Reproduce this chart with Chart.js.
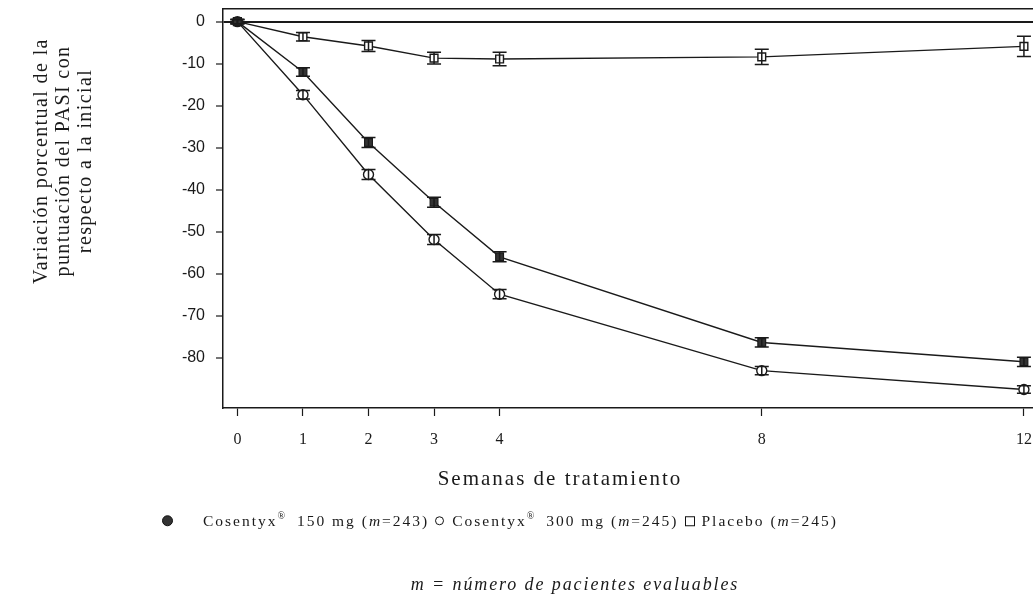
<!DOCTYPE html>
<html>
<head>
<meta charset="utf-8">
<script src="https://cdn.jsdelivr.net/npm/chart.js@4/dist/chart.umd.min.js"></script>
<style>
  html, body { margin: 0; padding: 0; background: #fff; overflow: hidden; }
  #wrap { position: relative; width: 1033px; height: 603px; overflow: hidden; font-family: "Liberation Serif", "DejaVu Serif", serif; color: #1a1a1a; }
  #c { position: absolute; left: 0; top: 0; }
  .rot { position: absolute; white-space: nowrap; font-size: 20px; letter-spacing: 1.4px; transform: translate(-50%, -50%) rotate(-90deg); line-height: 1; }
  .abs { position: absolute; white-space: nowrap; line-height: 1; }
  .xt { font-size: 21px; letter-spacing: 2px; transform: translate(-50%, -50%); }
  .foot { font-size: 18px; letter-spacing: 1.9px; font-style: italic; transform: translate(-50%, -50%); }
  #legend { position: absolute; left: 162px; top: 521px; transform: translateY(-50%); display: flex; align-items: center; white-space: nowrap; font-size: 15.5px; letter-spacing: 2px; line-height: 1; }
  #legend sup { font-size: 10px; position: relative; top: -2px; vertical-align: top; letter-spacing: 0; }
  .mk { display: inline-block; box-sizing: border-box; flex: none; }
</style>
</head>
<body>
<div id="wrap">
  <canvas id="c" width="1040" height="603"></canvas>
</div>
<script>
// ---- data ----
const weeks = [0, 1, 2, 3, 4, 8, 12];
const xTicks = [0, 1, 2, 3, 4, 8, 12];
const yTicks = [0, -10, -20, -30, -40, -50, -60, -70, -80];
const cos150 = [0, -12.0, -28.8, -43.0, -56.0, -76.4, -81.0];
const cos300 = [0, -17.4, -36.4, -51.9, -64.9, -83.1, -87.6];
const placebo = [0, -3.6, -5.8, -8.7, -8.9, -8.4, -5.9];
const err150 = [0.5, 1.0, 1.2, 1.2, 1.2, 1.1, 1.1];
const err300 = [0.5, 1.0, 1.2, 1.2, 1.1, 1.0, 0.9];
const errPlacebo = [0.5, 1.0, 1.3, 1.4, 1.6, 1.8, 2.4];
const seriesNames = ['Cosentyx', 'Cosentyx', 'Placebo'];
const seriesDose = ['150 mg', '300 mg', ''];
const seriesN = [243, 245, 245];
const yTitleLines = ['Variación porcentual de la', 'puntuación del PASI con', 'respecto a la inicial'];
const xTitle = 'Semanas de tratamiento';
const footnote = 'm = número de pacientes evaluables';

const ink = '#1a1a1a';

// ---- error bar plugin (uses the chart's scales) ----
const errorBars = {
  id: 'errorBars',
  afterDatasetsDraw(chart) {
    const ctx = chart.ctx;
    const ys = chart.scales.y;
    chart.data.datasets.forEach((ds, i) => {
      const meta = chart.getDatasetMeta(i);
      meta.data.forEach((pt, j) => {
        const v = ds.data[j].y, e = ds.errors[j];
        const x = pt.x;
        const y1 = ys.getPixelForValue(v + e), y2 = ys.getPixelForValue(v - e);
        ctx.save();
        ctx.strokeStyle = ink;
        ctx.lineWidth = 1.5;
        ctx.beginPath();
        ctx.moveTo(x, y1); ctx.lineTo(x, y2);
        ctx.moveTo(x - 7, y1); ctx.lineTo(x + 7, y1);
        ctx.moveTo(x - 7, y2); ctx.lineTo(x + 7, y2);
        ctx.stroke();
        ctx.restore();
      });
    });
  }
};

function pts(vals) { return weeks.map((w, i) => ({ x: w, y: vals[i] })); }

new Chart(document.getElementById('c'), {
  type: 'line',
  data: {
    datasets: [
      { label: 'Cosentyx 150 mg', data: pts(cos150), errors: err150, borderColor: ink, borderWidth: 1.4,
        pointStyle: 'rect', pointRadius: 5.5, pointBackgroundColor: '#333', pointBorderColor: ink, pointBorderWidth: 1.2 },
      { label: 'Cosentyx 300 mg', data: pts(cos300), errors: err300, borderColor: ink, borderWidth: 1.4,
        pointStyle: 'circle', pointRadius: 5, pointBackgroundColor: '#fff', pointBorderColor: ink, pointBorderWidth: 1.4 },
      { label: 'Placebo', data: pts(placebo), errors: errPlacebo, borderColor: ink, borderWidth: 1.4,
        pointStyle: 'rect', pointRadius: 5.5, pointBackgroundColor: '#fff', pointBorderColor: ink, pointBorderWidth: 1.4 }
    ]
  },
  options: {
    responsive: false,
    animation: false,
    layout: { padding: { left: 0, right: 0, top: 9, bottom: 155 } },
    plugins: { legend: { display: false }, tooltip: { enabled: false } },
    elements: { line: { tension: 0 } },
    scales: {
      x: {
        type: 'linear', min: -0.22, max: 12.14,
        afterBuildTicks: s => { s.ticks = xTicks.map(v => ({ value: v })); },
        afterFit: s => { s.height = 40; s.paddingLeft = 0; s.paddingRight = 0; },
        border: { display: true, color: ink, width: 1.5 },
        grid: { drawOnChartArea: false, drawTicks: true, tickLength: 8, tickColor: ink, tickWidth: 1.2 },
        ticks: { color: ink, padding: 14, maxRotation: 0, autoSkip: false,
          font: { family: 'Liberation Serif', size: 16 }, callback: v => String(v) }
      },
      x2: {
        type: 'linear', position: 'top', min: -0.22, max: 12.14,
        afterFit: s => { s.height = 0; s.paddingLeft = 0; s.paddingRight = 0; },
        border: { display: true, color: ink, width: 1.5 },
        grid: { drawOnChartArea: false, drawTicks: false },
        ticks: { display: false }
      },
      y: {
        type: 'linear', min: -92, max: 3,
        afterBuildTicks: s => { s.ticks = yTicks.map(v => ({ value: v })); },
        afterFit: s => { s.width = 223; s.paddingTop = 0; s.paddingBottom = 0; },
        border: { display: true, color: ink, width: 1.5 },
        grid: { drawOnChartArea: true, drawTicks: true, tickLength: 7, tickColor: ink, tickWidth: 1.2,
          color: c => (c.tick && c.tick.value === 0 ? ink : 'rgba(0,0,0,0)'), lineWidth: c => (c.tick && c.tick.value === 0 ? 2 : 0) },
        ticks: { color: ink, padding: 11, autoSkip: false,
          font: { family: 'Liberation Sans', size: 16 }, callback: v => String(v) }
      }
    }
  },
  plugins: [errorBars]
});

// ---- HTML text: axis titles, legend, footnote ----
const wrap = document.getElementById('wrap');
function addDiv(cls, html, left, top) {
  const d = document.createElement('div');
  d.className = cls; d.innerHTML = html;
  d.style.left = left + 'px'; d.style.top = top + 'px';
  wrap.appendChild(d); return d;
}
const yTitleX = [40, 62, 84];
yTitleLines.forEach((t, i) => addDiv('rot', t, yTitleX[i], 161));
addDiv('abs xt', xTitle, 560, 478);
addDiv('abs foot', footnote.replace(/^m/, '<i>m</i>'), 575, 584);

// legend (single row)
const legend = document.createElement('div');
legend.id = 'legend';
const markers = [
  'width:11px;height:11px;border-radius:50%;background:#333;border:1px solid #111;margin-right:30px;',
  'width:9px;height:9px;border-radius:50%;background:#fff;border:1.4px solid #111;margin:0 8px 0 6px;',
  'width:10px;height:10px;background:#fff;border:1.4px solid #111;margin:0 7px 0 6px;'
];
seriesNames.forEach((name, i) => {
  const m = document.createElement('span');
  m.className = 'mk'; m.style.cssText = markers[i];
  legend.appendChild(m);
  const t = document.createElement('span');
  t.innerHTML = seriesDose[i]
    ? name + '<sup>®</sup>&nbsp;&nbsp;' + seriesDose[i] + ' (<i>m</i>=' + seriesN[i] + ')'
    : name + ' (<i>m</i>=' + seriesN[i] + ')';
  legend.appendChild(t);
});
wrap.appendChild(legend);
</script>
</body>
</html>
